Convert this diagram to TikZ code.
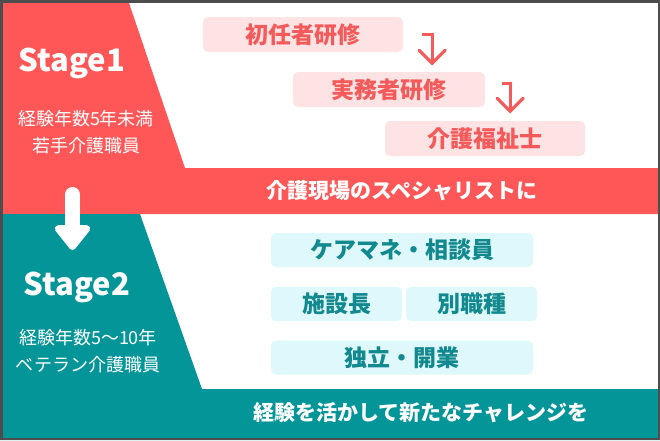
\documentclass[tikz,border=0pt]{standalone}
\usepackage{fontspec}
\setmainfont{Noto Sans CJK JP}
\usetikzlibrary{arrows.meta, positioning}
\definecolor{stagered}{RGB}{255, 87, 87}
\definecolor{stageteal}{RGB}{4, 149, 153}
\definecolor{pinkbox}{RGB}{253, 227, 227}
\definecolor{pinktext}{RGB}{245, 90, 90}
\definecolor{cyanbox}{RGB}{222, 248, 251}
\definecolor{tealtext}{RGB}{18, 137, 142}
\definecolor{frame}{RGB}{77, 77, 77}

\begin{document}
\begin{tikzpicture}[x=1pt, y=-1pt,
    qual/.style={fill=pinkbox, text=pinktext, rounded corners=5pt, minimum height=35pt, inner sep=0pt, font=\fontsize{23}{23}\selectfont\bfseries},
    career/.style={fill=cyanbox, text=tealtext, rounded corners=5pt, minimum height=34pt, inner sep=0pt, font=\fontsize{23}{23}\selectfont\bfseries},
    hook/.style={pinktext, line width=3.2pt, -{Straight Barb[length=13pt, width=26pt, line cap=round]}},
    title/.style={text=white, font=\fontsize{31}{31}\selectfont\bfseries},
    sub/.style={text=white, align=center, font=\fontsize{18}{27}\selectfont},
    band/.style={text=white, font=\fontsize{21}{21}\selectfont\bfseries}]
    \useasboundingbox (0,0) rectangle (660,440);
    
    % Stage 1 area and band
    \fill[stagered] (0,0) -- (128,0) -- (185,168) -- (660,168) -- (660,214) -- (0,214) -- cycle;
    % Stage 2 area and band
    \fill[stageteal] (0,214) -- (140,214) -- (202,389) -- (660,389) -- (660,440) -- (0,440) -- cycle;
    
    % Stage labels
    \node[title] (s1title) at (72,63) {Stage1};
    \node[sub] (s1sub) at (86,132.5) {経験年数5年未満\\若手介護職員};
    \node[title] (s2title) at (77,287) {Stage2};
    \node[sub] (s2sub) at (88,351.5) {経験年数5〜10年\\ベテラン介護職員};
    
    % Down arrow between stages
    \coordinate (arrowtop) at (72.5,194.5);
    \coordinate (arrowtip) at (72.5,250);
    \draw[white, line width=15pt, line cap=round, -{Triangle[length=27pt, width=41pt, round]}] (arrowtop) -- (arrowtip);
    
    % Qualifications
    \node[qual, minimum width=200pt] (shonin) at (303,34.5) {初任者研修};
    \node[qual, minimum width=192pt] (jitsumu) at (389,89.5) {実務者研修};
    \node[qual, minimum width=200pt] (fukushi) at (485,138.5) {介護福祉士};
    
    \draw[hook] ([xshift=19pt]shonin.east) -- ++(10,0) -- ++(0,31);
    \draw[hook] ([xshift=17pt, yshift=6pt]jitsumu.east) -- ++(8,0) -- ++(0,30);
    
    % Careers
    \node[career, minimum width=262pt] (caremane) at (402,250) {ケアマネ・相談員};
    \node[career, minimum width=131pt] (shisetsu) at (336.5,304) {施設長};
    \node[career, minimum width=131pt] (betsu) at (471.5,304) {別職種};
    \node[career, minimum width=262pt] (dokuritsu) at (402,357.5) {独立・開業};
    
    % Band texts
    \node[band] (s1band) at (402,191) {介護現場のスペシャリストに};
    \node[band] (s2band) at (421,413) {経験を活かして新たなチャレンジを};
    
    % Frame
    \draw[frame, line width=2.5pt] (1.25,1.25) rectangle (658.75,438.75);
\end{tikzpicture}
\end{document}
